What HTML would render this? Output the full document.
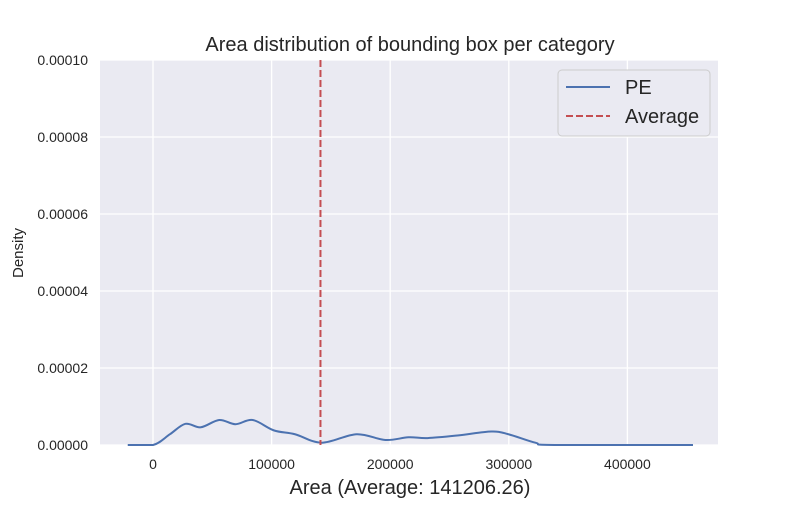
<!DOCTYPE html>
<html><head><meta charset="utf-8"><style>
body{margin:0;background:#fff;font-family:"Liberation Sans",sans-serif}
</style></head><body>
<svg width="800" height="500" font-family="Liberation Sans, sans-serif">
<rect x="100" y="60" width="618" height="385" fill="#eaeaf2"/>
<g id="grid"></g>
<g id="ticks" font-size="14" fill="#262626"></g>
<path id="curve" fill="none" stroke="#4c72b0" stroke-width="2"/>
<line id="avg" stroke="#c44e52" stroke-width="2" stroke-dasharray="7,3"/>
<text x="410" y="51" text-anchor="middle" font-size="20" fill="#262626">Area distribution of bounding box per category</text>
<text x="410" y="494" text-anchor="middle" font-size="20" fill="#262626">Area (Average: 141206.26)</text>
<text transform="translate(23,253) rotate(-90)" text-anchor="middle" font-size="15" fill="#262626">Density</text>
<g>
<rect x="558" y="70" width="152" height="66" rx="4" fill="#eaeaf2" stroke="#cccccc"/>
<line x1="566" y1="87" x2="610" y2="87" stroke="#4c72b0" stroke-width="2"/>
<text x="625" y="94" font-size="20" fill="#262626">PE</text>
<line x1="566" y1="116" x2="610" y2="116" stroke="#c44e52" stroke-width="2" stroke-dasharray="7,3"/>
<text x="625" y="123" font-size="20" fill="#262626">Average</text>
</g>
</svg>
<script>
const xTicks=[0,100000,200000,300000,400000];
const yTicks=[0,0.00002,0.00004,0.00006,0.00008,0.0001];
const yTickLabels=["0.00000","0.00002","0.00004","0.00006","0.00008","0.00010"];
const areaValues=[-21300,0,14300,27300,40300,55800,69500,84100,101900,119700,142400,171600,195900,215400,231600,257600,285200,299700,322400,338600,455300];
const densityValues=[0,0,2.8e-6,5.5e-6,4.6e-6,6.5e-6,5.4e-6,6.5e-6,3.8e-6,2.8e-6,0.6e-6,2.8e-6,1.3e-6,2.0e-6,1.8e-6,2.5e-6,3.5e-6,2.8e-6,0.6e-6,0,0];
const average=141206.26;
const X=v=>153+v/100000*118.6;
const Y=v=>445-v/0.0001*385;
const NS="http://www.w3.org/2000/svg";
const grid=document.getElementById('grid'),ticks=document.getElementById('ticks');
xTicks.forEach(t=>{
 const l=document.createElementNS(NS,'line');
 
 
 l.setAttribute('x1',X(t));l.setAttribute('x2',X(t));l.setAttribute('y1',60);l.setAttribute('y2',445);
 l.setAttribute('stroke','#fff');l.setAttribute('stroke-width','1.3');grid.appendChild(l);
 const tx=document.createElementNS(NS,'text');
 
 
 tx.setAttribute('x',X(t));tx.setAttribute('y',469);tx.setAttribute('text-anchor','middle');
 tx.textContent=String(t);ticks.appendChild(tx);
});
yTicks.forEach((t,i)=>{
 const l=document.createElementNS(NS,'line');
 
 
 l.setAttribute('x1',100);l.setAttribute('x2',718);l.setAttribute('y1',Y(t));l.setAttribute('y2',Y(t));
 l.setAttribute('stroke','#fff');l.setAttribute('stroke-width','1.3');grid.appendChild(l);
 const tx=document.createElementNS(NS,'text');
 
 
 tx.setAttribute('x',88);tx.setAttribute('y',Y(t)+5);tx.setAttribute('text-anchor','end');
 tx.textContent=yTickLabels[i];ticks.appendChild(tx);
});
const pts=areaValues.map((a,i)=>[X(a),Y(densityValues[i])]);
let d='M'+pts[0][0]+','+pts[0][1];
for(let i=0;i<pts.length-1;i++){
 const p0=pts[Math.max(0,i-1)],p1=pts[i],p2=pts[i+1],p3=pts[Math.min(pts.length-1,i+2)];
 const c1=[p1[0]+(p2[0]-p0[0])/6,Math.min(445,p1[1]+(p2[1]-p0[1])/6)];
 const c2=[p2[0]-(p3[0]-p1[0])/6,Math.min(445,p2[1]-(p3[1]-p1[1])/6)];
 d+=` C${c1[0]},${c1[1]} ${c2[0]},${c2[1]} ${p2[0]},${p2[1]}`;
}
document.getElementById('curve').setAttribute('d',d);
const avg=document.getElementById('avg');
avg.setAttribute('x1',X(average));avg.setAttribute('x2',X(average));avg.setAttribute('y1',60);avg.setAttribute('y2',445);
</script>
</body></html>
